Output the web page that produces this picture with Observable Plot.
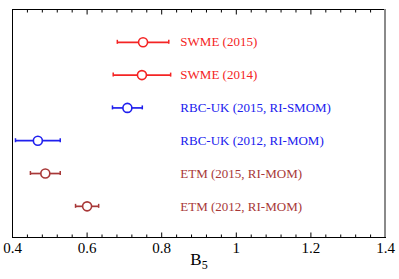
<!DOCTYPE html>
<html>
<head>
<meta charset="utf-8">
<script src="https://cdn.jsdelivr.net/npm/d3@7"></script>
<script src="https://cdn.jsdelivr.net/npm/@observablehq/plot@0.6"></script>
<style>
  html, body { margin: 0; padding: 0; background: #fff; }
  svg { display: block; }
  svg, svg text { font-family: "Liberation Serif", "Times New Roman", "DejaVu Serif", serif !important; }
</style>
</head>
<body>
<div id="chart"></div>
<script>
// Data
const labels = ["SWME (2015)", "SWME (2014)", "RBC-UK (2015, RI-SMOM)", "RBC-UK (2012, RI-MOM)", "ETM (2015, RI-MOM)", "ETM (2012, RI-MOM)"];
const groups = ["SWME", "SWME", "RBC-UK", "RBC-UK", "ETM", "ETM"];
const rowPos = [6, 5, 4, 3, 2, 1];
const values = [0.750, 0.747, 0.708, 0.468, 0.488, 0.600];
const errors = [0.069, 0.077, 0.040, 0.060, 0.040, 0.031];
const groupNames = ["SWME", "RBC-UK", "ETM"];
const groupColors = ["#f42424", "#2020ee", "#a83838"];
const majorTicks = [0.4, 0.6, 0.8, 1.0, 1.2, 1.4];
const majorTickLabels = ["0.4", "0.6", "0.8", "1", "1.2", "1.4"];
const minorTicks = [0.44, 0.48, 0.52, 0.56, 0.64, 0.68, 0.72, 0.76, 0.84, 0.88, 0.92, 0.96,
                    1.04, 1.08, 1.12, 1.16, 1.24, 1.28, 1.32, 1.36];
const xLabel = "B5";

const rows = labels.map((label, i) => ({
  label, group: groups[i], y: rowPos[i], v: values[i],
  lo: values[i] - errors[i], hi: values[i] + errors[i]
}));

const font = "Liberation Serif, Times New Roman, serif";
const labelX = 0.85;

const tickFmt = d => majorTickLabels[majorTicks.indexOf(d)] ?? "";

const chart = Plot.plot({
  width: 399,
  height: 279,
  marginLeft: 12,
  marginRight: 14,
  marginTop: 9,
  marginBottom: 42,
  style: { fontFamily: font, background: "#fff" },
  x: { domain: [0.4, 1.4], axis: null },
  y: { domain: [0.05, 7], axis: null },
  color: { domain: groupNames, range: groupColors },
  marks: [
    // inward ticks, bottom and top
    Plot.axisX({ anchor: "bottom", ticks: majorTicks, tickSize: -4.5, tickFormat: () => "", label: null, stroke: "#000" }),
    Plot.axisX({ anchor: "bottom", ticks: minorTicks, tickSize: -2.5, tickFormat: () => "", label: null, stroke: "#000" }),
    Plot.axisX({ anchor: "top", ticks: majorTicks, tickSize: -4.5, tickFormat: () => "", label: null, stroke: "#000" }),
    Plot.axisX({ anchor: "top", ticks: minorTicks, tickSize: -2.5, tickFormat: () => "", label: null, stroke: "#000" }),
    // tick labels
    Plot.axisX({ anchor: "bottom", ticks: majorTicks, tickSize: 0, tickPadding: 5, tickFormat: tickFmt, label: null, fontSize: 15, fill: "#000", fontFamily: font }),
    Plot.frame({ stroke: "#000", strokeWidth: 1 }),
    Plot.ruleX([majorTicks[majorTicks.length - 1]], { stroke: "#8a8a8a", strokeWidth: 2, dx: -0.5 }),
    // error bars
    Plot.link(rows, { x1: "lo", x2: "hi", y1: "y", y2: "y", stroke: "group", strokeWidth: 1.7 }),
    Plot.ruleX(rows, { x: "lo", y1: "y", y2: "y", insetTop: -2, insetBottom: -2, stroke: "group", strokeWidth: 1.5 }),
    Plot.ruleX(rows, { x: "hi", y1: "y", y2: "y", insetTop: -2, insetBottom: -2, stroke: "group", strokeWidth: 1.5 }),
    Plot.dot(rows, { x: "v", y: "y", r: 4.5, fill: "#fff", stroke: "group", strokeWidth: 1.6 }),
    // row labels
    Plot.text(rows, { x: () => labelX, y: "y", text: "label", fill: "group", textAnchor: "start", fontSize: 13, fontFamily: font }),
    // axis label
    Plot.text([xLabel], { frameAnchor: "bottom", dy: 27, fontSize: 17, fill: "#000", fontFamily: font })
  ]
});

// subscript for axis label
d3.select(chart).selectAll("text").filter(function () { return this.textContent === xLabel; })
  .each(function () {
    const t = d3.select(this);
    t.text(xLabel.slice(0, 1));
    t.append("tspan").attr("dy", "0.35em").attr("font-size", 12).text(xLabel.slice(1));
  });

document.getElementById("chart").appendChild(chart);
</script>
</body>
</html>
